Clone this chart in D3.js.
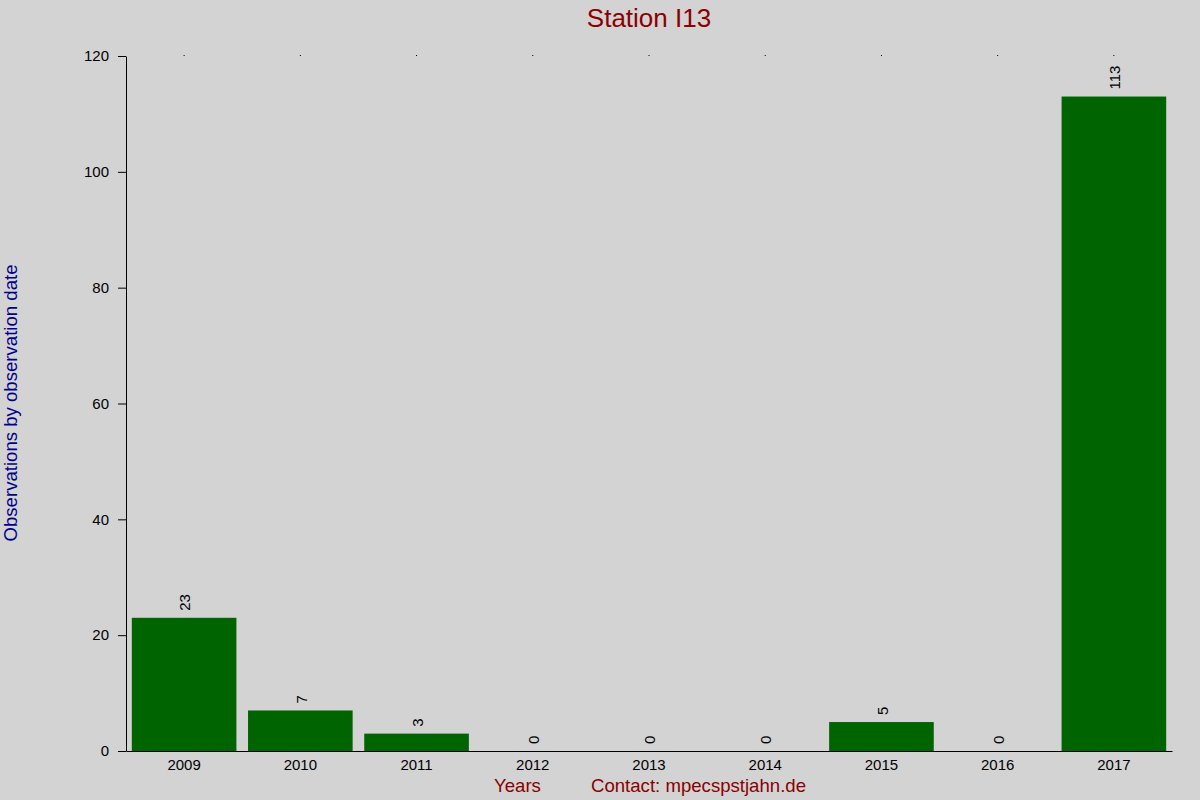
<!DOCTYPE html>
<meta charset="utf-8">
<script src="https://d3js.org/d3.v7.min.js"></script>
<style>
  body { margin: 0; background: #d3d3d3; }
  svg { display: block; font-family: "Liberation Sans", Arial, sans-serif; }
</style>
<div id="chart"></div>
<script>
  // data
  var years = ["2009", "2010", "2011", "2012", "2013", "2014", "2015", "2016", "2017"];
  var counts = [23, 7, 3, 0, 0, 0, 5, 0, 113];
  var yTicks = [0, 20, 40, 60, 80, 100, 120];

  var width = 1200, height = 800;
  var margin = {top: 56, right: 28, bottom: 49, left: 126};

  var svg = d3.select("#chart").append("svg")
    .attr("width", width)
    .attr("height", height);

  svg.append("rect")
    .attr("width", width).attr("height", height)
    .attr("fill", "#d3d3d3");

  var x = d3.scaleBand()
    .domain(years)
    .range([margin.left, width - margin.right])
    .paddingInner(0.1)
    .paddingOuter(0.05);

  var y = d3.scaleLinear()
    .domain([0, 120])
    .range([height - margin.bottom, margin.top]);

  // bars
  svg.selectAll("rect.bar")
    .data(years)
    .enter().append("rect")
    .attr("class", "bar")
    .attr("x", function(d) { return x(d); })
    .attr("y", function(d, i) { return y(counts[i]); })
    .attr("width", x.bandwidth())
    .attr("height", function(d, i) { return y(0) - y(counts[i]); })
    .attr("fill", "#006400");

  // value labels, turned upright
  svg.selectAll("text.val")
    .data(years)
    .enter().append("text")
    .attr("class", "val")
    .attr("transform", function(d, i) {
      return "translate(" + (x(d) + x.bandwidth() / 2 + 1) + "," + (y(counts[i]) - 7) + ")rotate(-90)";
    })
    .attr("dy", "0.35em")
    .attr("text-anchor", "start")
    .style("font-size", "15px")
    .attr("fill", "#000")
    .text(function(d, i) { return counts[i]; });

  // y axis
  var yAxis = svg.append("g")
    .attr("transform", "translate(" + margin.left + ",0)")
    .call(d3.axisLeft(y).tickValues(yTicks).tickSize(8).tickPadding(9).tickSizeOuter(0));
  yAxis.selectAll("text").style("font-size", "15px").attr("fill", "#000");
  yAxis.selectAll("line, path").attr("stroke", "#000");

  // x axis
  var xAxis = svg.append("g")
    .attr("transform", "translate(0," + y(0) + ")")
    .call(d3.axisBottom(x).tickSize(0).tickPadding(8).tickSizeOuter(0));
  xAxis.selectAll("text").style("font-size", "15px").attr("fill", "#000");
  xAxis.select(".domain").attr("stroke", "#000");

  // little marks on top
  var topAxis = svg.append("g")
    .attr("transform", "translate(0," + margin.top + ")")
    .call(d3.axisTop(x).tickSize(1).tickFormat(""));
  topAxis.select(".domain").remove();
  topAxis.selectAll("line").attr("stroke", "#000");

  // titles
  svg.append("text")
    .attr("x", 649).attr("y", 27)
    .attr("text-anchor", "middle")
    .style("font-size", "26px")
    .attr("fill", "#8b0000")
    .text("Station I13");

  svg.append("text")
    .attr("transform", "translate(17," + 403 + ")rotate(-90)")
    .attr("text-anchor", "middle")
    .style("font-size", "18.6px")
    .attr("fill", "#00008b")
    .text("Observations by observation date");

  svg.append("text")
    .attr("x", 494).attr("y", 792)
    .style("font-size", "18.6px")
    .attr("fill", "#8b0000")
    .text("Years");

  svg.append("text")
    .attr("x", 591).attr("y", 792)
    .style("font-size", "18.6px")
    .attr("fill", "#8b0000")
    .text("Contact: mpecspstjahn.de");
</script>
